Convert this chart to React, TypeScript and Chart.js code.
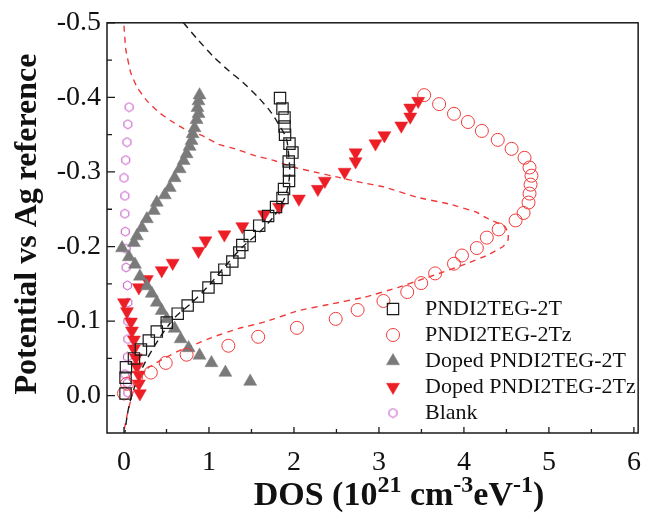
import React, { useEffect, useRef } from "react";
import { Chart, registerables } from "chart.js";
import { drawPoint } from "chart.js/helpers";

Chart.register(...registerables);

// ---------- axis ticks ----------
const xTickValues = [0, 1, 2, 3, 4, 5, 6];
const yTickValues = [-0.5, -0.4, -0.3, -0.2, -0.1, 0.0];

// ---------- series labels ----------
const label2T = "PNDI2TEG-2T";
const label2Tz = "PNDI2TEG-2Tz";
const labelDoped2T = "Doped PNDI2TEG-2T";
const labelDoped2Tz = "Doped PNDI2TEG-2Tz";
const labelBlank = "Blank";

// ---------- PNDI2TEG-2T (open squares) ----------
const dos2T = [1.836, 1.865, 1.889, 1.889, 1.895, 1.947, 1.982, 1.938, 1.942, 1.942, 1.883, 1.865, 1.789, 1.696, 1.591, 1.48, 1.392, 1.357, 1.275, 1.181, 1.088, 0.994, 0.871, 0.749, 0.632, 0.503, 0.386, 0.292, 0.199, 0.117, 0.023, 0.018, 0.018];
const pot2T = [-0.399, -0.385, -0.373, -0.361, -0.35, -0.338, -0.326, -0.314, -0.302, -0.288, -0.277, -0.265, -0.253, -0.241, -0.228, -0.214, -0.202, -0.192, -0.18, -0.169, -0.158, -0.145, -0.133, -0.121, -0.11, -0.098, -0.086, -0.074, -0.062, -0.05, -0.038, -0.024, -0.003];

// ---------- PNDI2TEG-2Tz (open circles) ----------
const dos2Tz = [3.532, 3.708, 3.883, 4.047, 4.211, 4.398, 4.561, 4.713, 4.772, 4.795, 4.784, 4.772, 4.76, 4.702, 4.608, 4.409, 4.269, 4.152, 3.977, 3.883, 3.661, 3.497, 3.333, 3.053, 2.749, 2.491, 2.035, 1.579, 1.228, 0.737, 0.491, 0.316, 0.14, 0.035, 0.0];
const pot2Tz = [-0.403, -0.391, -0.378, -0.367, -0.355, -0.343, -0.331, -0.319, -0.306, -0.295, -0.283, -0.271, -0.259, -0.245, -0.235, -0.223, -0.212, -0.198, -0.188, -0.177, -0.164, -0.151, -0.139, -0.127, -0.115, -0.103, -0.091, -0.079, -0.067, -0.055, -0.044, -0.031, -0.024, -0.016, -0.003];

// ---------- Doped PNDI2TEG-2T (grey up triangles) ----------
const dosDoped2T = [0.889, 0.877, 0.865, 0.877, 0.854, 0.83, 0.807, 0.795, 0.772, 0.737, 0.702, 0.655, 0.596, 0.538, 0.48, 0.386, 0.351, 0.269, 0.211, 0.152, 0.117, -0.023, 0.058, 0.129, 0.187, 0.269, 0.327, 0.386, 0.444, 0.503, 0.596, 0.667, 0.76, 0.889, 1.029, 1.193, 1.485];
const potDoped2T = [-0.403, -0.395, -0.386, -0.378, -0.37, -0.359, -0.351, -0.342, -0.334, -0.324, -0.315, -0.304, -0.292, -0.279, -0.269, -0.259, -0.248, -0.237, -0.225, -0.214, -0.205, -0.198, -0.186, -0.176, -0.16, -0.147, -0.137, -0.125, -0.114, -0.103, -0.09, -0.076, -0.064, -0.054, -0.044, -0.031, -0.019];

// ---------- Doped PNDI2TEG-2Tz (red down triangles) ----------
const dosDoped2Tz = [0.187, 0.175, 0.175, 0.152, 0.14, 0.117, 0.117, 0.094, 0.082, 0.035, 0.0, 0.175, 0.269, 0.444, 0.573, 0.877, 0.959, 1.181, 1.392, 1.649, 1.825, 2.058, 2.281, 2.363, 2.596, 2.725, 2.725, 2.959, 3.064, 3.263, 3.368, 3.368, 3.462];
const potDoped2Tz = [-0.003, -0.016, -0.028, -0.039, -0.051, -0.063, -0.075, -0.087, -0.099, -0.113, -0.125, -0.145, -0.156, -0.168, -0.178, -0.194, -0.208, -0.216, -0.227, -0.243, -0.253, -0.264, -0.277, -0.288, -0.3, -0.314, -0.326, -0.338, -0.349, -0.362, -0.374, -0.386, -0.395];

// ---------- Blank (small hexagons) ----------
const dosBlank = [0.06, 0.045, 0.035, 0.02, 0.0, 0.01, 0.01, 0.015, 0.025, 0.025, 0.04, 0.045, 0.045, 0.045, 0.04, 0.01, 0.04, 0.045];
const potBlank = [-0.387, -0.364, -0.34, -0.316, -0.292, -0.268, -0.244, -0.22, -0.197, -0.172, -0.148, -0.125, -0.1, -0.076, -0.052, -0.029, -0.017, -0.004];

// ---------- fit curves (dashed) ----------
const fitDos2T = [0.7, 0.88, 1.05, 1.23, 1.4, 1.58, 1.73, 1.83, 1.91, 1.94, 1.95, 1.93, 1.87, 1.76, 1.6, 1.4, 1.2, 1.0, 0.8, 0.6, 0.41, 0.21, 0.09, 0.04, 0.01];
const fitPot2T = [-0.5, -0.476, -0.455, -0.436, -0.42, -0.4, -0.38, -0.362, -0.345, -0.32, -0.3, -0.28, -0.26, -0.24, -0.22, -0.2, -0.175, -0.148, -0.125, -0.105, -0.076, -0.036, 0.0, 0.025, 0.05];

const fitDos2Tz = [0.0, 0.02, 0.079, 0.156, 0.273, 0.409, 0.546, 0.722, 0.917, 1.111, 1.306, 1.54, 1.774, 2.008, 2.242, 2.515, 2.788, 3.06, 3.45, 3.83, 4.15, 4.27, 4.48, 4.52, 4.52, 4.46, 4.27, 4.03, 3.76, 3.53, 3.22, 2.83, 2.44, 2.05, 1.66, 1.345, 1.03, 0.838, 0.68, 0.487, 0.292, 0.175, 0.097, 0.039, 0.0];
const fitPot2Tz = [-0.496, -0.465, -0.433, -0.413, -0.395, -0.38, -0.369, -0.357, -0.349, -0.337, -0.331, -0.322, -0.315, -0.306, -0.3, -0.293, -0.286, -0.28, -0.266, -0.257, -0.246, -0.238, -0.227, -0.218, -0.209, -0.2, -0.188, -0.177, -0.166, -0.157, -0.145, -0.132, -0.123, -0.114, -0.099, -0.09, -0.078, -0.069, -0.062, -0.051, -0.038, -0.024, -0.002, 0.025, 0.047];

const toPoints = (xs: number[], ys: number[]) => xs.map((x, i) => ({ x, y: ys[i] }));

const SERIF = '"Liberation Serif"';
const C_BLACK = "#1a1a1a";
const C_RED_OPEN = "#f03a3a";
const C_RED_FILL = "#ec1f27";
const C_GREY = "#7a7a7a";
const C_PURPLE = "#c24cc4";

function makeHexagon(): HTMLCanvasElement {
  const c = document.createElement("canvas");
  c.width = 11;
  c.height = 11;
  const g = c.getContext("2d")!;
  g.strokeStyle = C_PURPLE;
  g.lineWidth = 1;
  g.beginPath();
  for (let i = 0; i < 6; i++) {
    const a = (Math.PI / 3) * i + Math.PI / 6;
    const px = 5.5 + 4.5 * Math.cos(a);
    const py = 5.5 + 4.5 * Math.sin(a);
    if (i === 0) g.moveTo(px, py);
    else g.lineTo(px, py);
  }
  g.closePath();
  g.stroke();
  return c;
}

export default function App() {
  const ref = useRef<HTMLCanvasElement | null>(null);

  useEffect(() => {
    if (!ref.current) return;
    const hex = makeHexagon();

    const legendItems = [
      { text: label2T, style: "rect", rotation: 0, radius: 8, fill: "rgba(0,0,0,0)", stroke: C_BLACK, bw: 1.2 },
      { text: label2Tz, style: "circle", rotation: 0, radius: 6.5, fill: "rgba(0,0,0,0)", stroke: C_RED_OPEN, bw: 1 },
      { text: labelDoped2T, style: "triangle", rotation: 0, radius: 7.5, fill: C_GREY, stroke: C_GREY, bw: 0.5 },
      { text: labelDoped2Tz, style: "triangle", rotation: 180, radius: 7.5, fill: C_RED_FILL, stroke: C_RED_FILL, bw: 0.5 },
      { text: labelBlank, style: hex as any, rotation: 0, radius: 4.5, fill: "rgba(0,0,0,0)", stroke: C_PURPLE, bw: 1 },
    ];

    const decor = {
      id: "decor",
      afterDraw(ch: any) {
        const { ctx, chartArea: a, scales } = ch;
        const xs = scales.x;
        const ys = scales.y;
        ctx.save();
        ctx.strokeStyle = C_BLACK;
        ctx.lineWidth = 1.5;
        ctx.strokeRect(a.left, a.top, a.right - a.left, a.bottom - a.top);
        ctx.lineWidth = 1.3;
        ctx.beginPath();
        for (let i = 0; i <= 12; i++) {
          const px = xs.getPixelForValue(i * 0.5);
          const len = i % 2 === 0 ? 6 : 4;
          ctx.moveTo(px, a.bottom);
          ctx.lineTo(px, a.bottom - len);
        }
        for (let i = 0; i <= 10; i++) {
          const py = ys.getPixelForValue(-0.5 + i * 0.05);
          const len = i % 2 === 0 ? 8 : 5;
          ctx.moveTo(a.left, py);
          ctx.lineTo(a.left + len, py);
        }
        ctx.stroke();

        // y title
        ctx.save();
        ctx.translate(28, 224);
        ctx.rotate(-Math.PI / 2);
        ctx.fillStyle = "#111";
        ctx.font = `bold 32px ${SERIF}`;
        ctx.textAlign = "center";
        ctx.textBaseline = "middle";
        ctx.fillText("Potential vs Ag reference", 0, 0);
        ctx.restore();

        // x title with superscripts
        const fs = 34;
        const sfs = 24;
        const parts: [string, boolean][] = [
          ["DOS (10", false],
          ["21", true],
          [" cm", false],
          ["-3", true],
          ["eV", false],
          ["-1", true],
          [")", false],
        ];
        let total = 0;
        for (const [t, sup] of parts) {
          ctx.font = `bold ${sup ? sfs : fs}px ${SERIF}`;
          total += ctx.measureText(t).width;
        }
        let cx = 399 - total / 2;
        const base = 505;
        ctx.fillStyle = "#111";
        ctx.textAlign = "left";
        ctx.textBaseline = "alphabetic";
        for (const [t, sup] of parts) {
          ctx.font = `bold ${sup ? sfs : fs}px ${SERIF}`;
          ctx.fillText(t, cx, sup ? base - 13 : base);
          cx += ctx.measureText(t).width;
        }

        // legend
        const lx = 393;
        const tx = 425;
        let ly = 309;
        ctx.font = `22px ${SERIF}`;
        ctx.textBaseline = "middle";
        for (const it of legendItems) {
          ctx.fillStyle = it.fill;
          ctx.strokeStyle = it.stroke;
          ctx.lineWidth = it.bw;
          drawPoint(ctx, { pointStyle: it.style, rotation: it.rotation, radius: it.radius, borderWidth: it.bw } as any, lx, ly);
          ctx.fillStyle = "#111";
          ctx.fillText(it.text, tx, ly);
          ly += 26;
        }
        ctx.restore();
      },
    };

    const chart = new Chart(ref.current, {
      type: "scatter",
      data: {
        datasets: [
          { label: label2T, data: toPoints(dos2T, pot2T), pointStyle: "rect", pointRadius: 8, backgroundColor: "rgba(0,0,0,0)", borderColor: C_BLACK, borderWidth: 1.2 },
          { label: label2Tz, data: toPoints(dos2Tz, pot2Tz), pointStyle: "circle", pointRadius: 6.5, backgroundColor: "rgba(0,0,0,0)", borderColor: C_RED_OPEN, borderWidth: 1 },
          { label: labelDoped2T, data: toPoints(dosDoped2T, potDoped2T), pointStyle: "triangle", pointRadius: 7.5, backgroundColor: C_GREY, borderColor: C_GREY, borderWidth: 0.5 },
          { label: labelDoped2Tz, data: toPoints(dosDoped2Tz, potDoped2Tz), pointStyle: "triangle", rotation: 180, pointRadius: 7.5, backgroundColor: C_RED_FILL, borderColor: C_RED_FILL, borderWidth: 0.5 },
          { label: labelBlank, data: toPoints(dosBlank, potBlank), pointStyle: hex, pointRadius: 4.5, backgroundColor: "rgba(0,0,0,0)", borderColor: C_PURPLE, borderWidth: 1 },
          { label: "fit 2T", data: toPoints(fitDos2T, fitPot2T), showLine: true, pointRadius: 0, borderColor: C_BLACK, borderWidth: 1.4, borderDash: [7, 5], tension: 0.3 },
          { label: "fit 2Tz", data: toPoints(fitDos2Tz, fitPot2Tz), showLine: true, pointRadius: 0, borderColor: C_RED_OPEN, borderWidth: 1.4, borderDash: [6, 5], tension: 0.1 },
        ],
      },
      options: {
        animation: false,
        responsive: false,
        devicePixelRatio: 1,
        layout: { padding: { top: 22, right: 13, left: 0, bottom: 0 } },
        plugins: { legend: { display: false }, tooltip: { enabled: false } },
        scales: {
          x: {
            type: "linear",
            min: -0.2,
            max: 6.05,
            afterBuildTicks: (s: any) => {
              s.ticks = xTickValues.map((v) => ({ value: v }));
            },
            afterFit: (s: any) => {
              s.height = 84;
            },
            grid: { display: false, drawTicks: false },
            border: { display: false },
            ticks: { font: { family: SERIF, size: 28 }, color: "#111", padding: 13, maxRotation: 0, autoSkip: false, callback: (v: any) => String(v) },
          },
          y: {
            type: "linear",
            min: -0.5,
            max: 0.05,
            reverse: true,
            afterBuildTicks: (s: any) => {
              s.ticks = yTickValues.map((v) => ({ value: v }));
            },
            afterFit: (s: any) => {
              s.width = 107;
            },
            grid: { display: false, drawTicks: false },
            border: { display: false },
            ticks: { font: { family: SERIF, size: 28 }, color: "#111", padding: 6, autoSkip: false, callback: (v: any) => Number(v).toFixed(1) },
          },
        },
      },
      plugins: [decor],
    } as any);

    return () => chart.destroy();
  }, []);

  return (
    <div style={{ position: "fixed", left: 0, top: 0, width: 654, height: 517, background: "#fff" }}>
      <canvas ref={ref} width={654} height={517} style={{ width: 654, height: 517, display: "block" }} />
    </div>
  );
}
